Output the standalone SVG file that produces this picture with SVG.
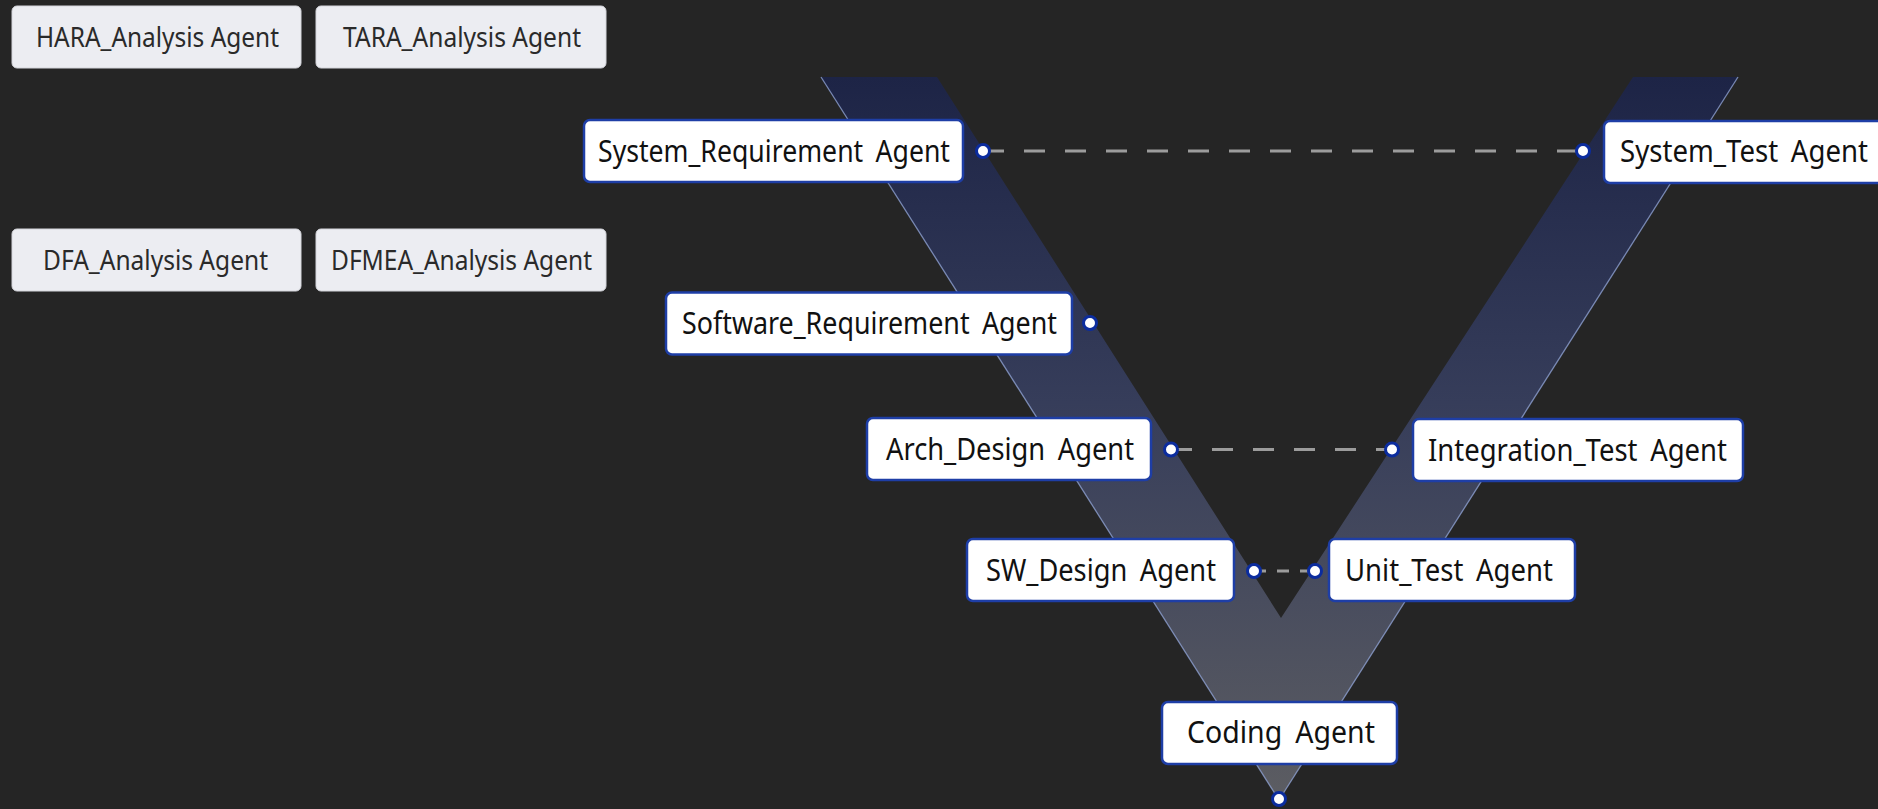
<svg xmlns="http://www.w3.org/2000/svg" width="1878" height="809" viewBox="0 0 1878 809">
  <defs>
    <linearGradient id="vgrad" x1="0" y1="77" x2="0" y2="800" gradientUnits="userSpaceOnUse">
      <stop offset="0" stop-color="#1d2446"/>
      <stop offset="0.45" stop-color="#363d5a"/>
      <stop offset="1" stop-color="#5c5d62"/>
    </linearGradient>
    <style>
      .bg { fill: #252525; }
      .ana rect { fill: #ecedf2; stroke: #d4d5db; stroke-width: 1; }
      .ana text { font-family: "Noto Sans", "Open Sans", sans-serif; font-size: 28px; fill: #2a2a2a; text-anchor: middle; }
      .vn rect { fill: #ffffff; stroke: #1e3ea6; stroke-width: 2.5; }
      .vn text { font-family: "Noto Sans", "Open Sans", sans-serif; font-size: 30px; fill: #111111; text-anchor: middle; word-spacing: 6px; }
      .port { fill: #ffffff; stroke: #0b2c9e; stroke-width: 3; }
      .dash { stroke: #9c9c9c; stroke-width: 3; fill: none; stroke-dasharray: 21 20; }
      .dash-short { stroke: #9c9c9c; stroke-width: 3; fill: none; stroke-dasharray: 12 11; }
      .vedge { stroke: #8ea1d2; stroke-width: 1.3; opacity: 0.8; fill: none; }
    </style>
  </defs>
  <rect class="bg" x="0" y="0" width="1878" height="809"/>

  <g id="v-shape">
    <polygon points="821,77 937,77 1281,618 1633,77 1738,77 1279,800" fill="url(#vgrad)"/>
    <line class="vedge" x1="821" y1="77" x2="1279" y2="800"/>
    <line class="vedge" x1="1738" y1="77" x2="1279" y2="800"/>
  </g>

  <g id="connectors">
    <line class="dash" x1="983" y1="151" x2="1583" y2="151"/>
    <line class="dash" x1="1171" y1="449.5" x2="1392" y2="449.5"/>
    <line class="dash-short" x1="1254" y1="571" x2="1315" y2="571"/>
  </g>

  <g id="hara" class="ana">
    <rect x="12" y="6" width="289" height="62" rx="5"/>
    <text x="157.5" y="47" textLength="243" lengthAdjust="spacingAndGlyphs">HARA_Analysis Agent</text>
  </g>
  <g id="tara" class="ana">
    <rect x="316" y="6" width="290" height="62" rx="5"/>
    <text x="462" y="47" textLength="238" lengthAdjust="spacingAndGlyphs">TARA_Analysis Agent</text>
  </g>
  <g id="dfa" class="ana">
    <rect x="12" y="229" width="289" height="62" rx="5"/>
    <text x="155.5" y="270" textLength="225" lengthAdjust="spacingAndGlyphs">DFA_Analysis Agent</text>
  </g>
  <g id="dfmea" class="ana">
    <rect x="316" y="229" width="290" height="62" rx="5"/>
    <text x="461.5" y="270" textLength="261" lengthAdjust="spacingAndGlyphs">DFMEA_Analysis Agent</text>
  </g>

  <g id="system-requirement" class="vn">
    <rect x="584" y="120" width="379" height="62" rx="6"/>
    <text x="774" y="162" textLength="352" lengthAdjust="spacingAndGlyphs">System_Requirement Agent</text>
    <circle class="port" cx="983" cy="151" r="6.5"/>
  </g>
  <g id="system-test" class="vn">
    <rect x="1604" y="121" width="290" height="62" rx="6"/>
    <text x="1744" y="162" textLength="248" lengthAdjust="spacingAndGlyphs">System_Test Agent</text>
    <circle class="port" cx="1583" cy="151" r="6.5"/>
  </g>
  <g id="software-requirement" class="vn">
    <rect x="666" y="292.5" width="406" height="62" rx="6"/>
    <text x="869.5" y="334" textLength="375" lengthAdjust="spacingAndGlyphs">Software_Requirement Agent</text>
    <circle class="port" cx="1090" cy="323" r="6.5"/>
  </g>
  <g id="arch-design" class="vn">
    <rect x="867" y="418" width="284" height="62" rx="6"/>
    <text x="1010" y="460" textLength="248" lengthAdjust="spacingAndGlyphs">Arch_Design Agent</text>
    <circle class="port" cx="1171" cy="449.5" r="6.5"/>
  </g>
  <g id="integration-test" class="vn">
    <rect x="1413" y="419" width="330" height="62" rx="6"/>
    <text x="1577.5" y="461" textLength="299" lengthAdjust="spacingAndGlyphs">Integration_Test Agent</text>
    <circle class="port" cx="1392" cy="449.5" r="6.5"/>
  </g>
  <g id="sw-design" class="vn">
    <rect x="967" y="539" width="267" height="62" rx="6"/>
    <text x="1101" y="581" textLength="230" lengthAdjust="spacingAndGlyphs">SW_Design Agent</text>
    <circle class="port" cx="1254" cy="571" r="6.5"/>
  </g>
  <g id="unit-test" class="vn">
    <rect x="1329" y="539" width="246" height="62" rx="6"/>
    <text x="1449" y="581" textLength="208" lengthAdjust="spacingAndGlyphs">Unit_Test Agent</text>
    <circle class="port" cx="1315" cy="571" r="6.5"/>
  </g>
  <g id="coding" class="vn">
    <rect x="1162" y="702" width="235" height="62" rx="6"/>
    <text x="1281" y="743" textLength="188" lengthAdjust="spacingAndGlyphs">Coding Agent</text>
    <circle class="port" cx="1279" cy="799" r="6.5"/>
  </g>
</svg>
